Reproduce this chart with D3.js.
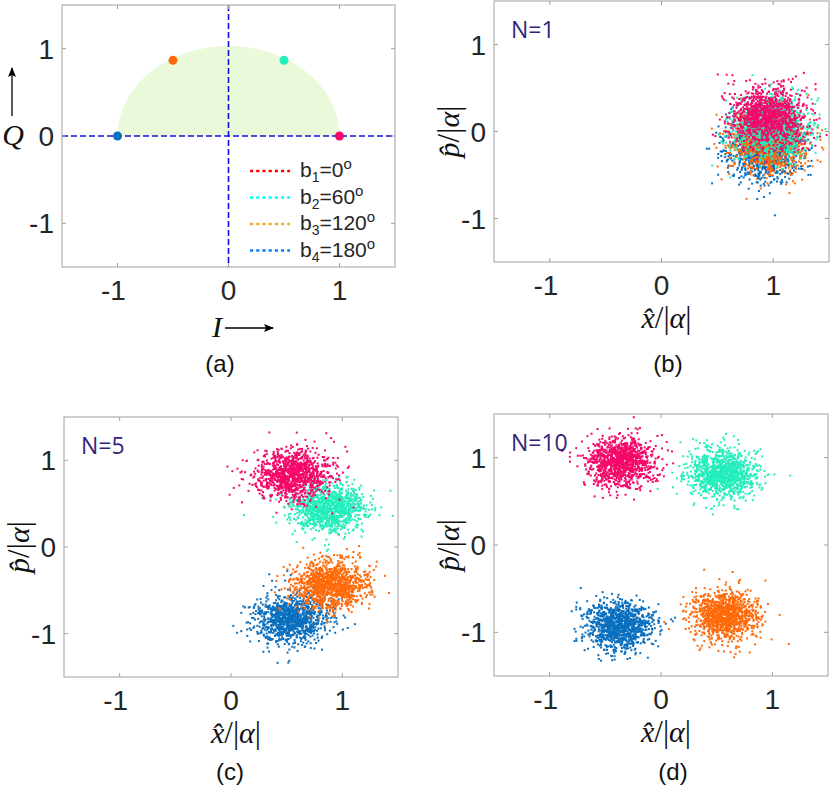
<!DOCTYPE html>
<html>
<head>
<meta charset="utf-8">
<title>Constellation and phase-space clouds</title>
<script src="https://cdn.jsdelivr.net/npm/d3@7"></script>
<style>
	body { margin: 0; background: #fff; }
	svg { display: block; }
</style>
</head>
<body>
<div id="vis"></div>
<script type="text/javascript">
// ---- data ----
var tickValues = [-1, 0, 1];
var phaseNames = ["b1", "b2", "b3", "b4"];
var phaseDegrees = [0, 60, 120, 180];
// constellation points of panel (a), in (I, Q)
var constI = [1, 0.5, -0.5, -1];
var constQ = [0, 0.866, 0.866, 0];
// outline of the shaded half disc: half width and height
var discHalfWidth = 1;
var discHeight = 1.03;
var nLabels = ["N=1", "N=5", "N=10"];
// cloud centres and spreads per N (order b1..b4)
var centreX = [
	[0.95, 1.00, 0.95, 0.92],
	[0.55, 0.88, 0.90, 0.55],
	[-0.36, 0.55, 0.57, -0.37]
];
var centreY = [
	[0.17, 0.05, -0.12, -0.21],
	[0.83, 0.45, -0.43, -0.83],
	[0.95, 0.82, -0.80, -0.92]
];
var spreadX = [0.17, 0.17, 0.15];
var spreadY = [0.17, 0.14, 0.14];
var samplesPerCloud = 1100;

// colours
const COLOR_DOT = ["#f5086a", "#22eebb", "#ff6a0a", "#0a6fbe"];
const COLOR_LEGEND = ["#ff0000", "#00ffff", "#edb120", "#0a7cff"];
const COLOR_AXIS = "#1010e0";
const COLOR_FRAME = "#a0a0a0";
const COLOR_TEXT = "#262626";

var svg = d3.select("#vis").append("svg").attr("width", 830).attr("height", 786);

// panel frames (pixels)
var panels = [
	{x0: 62, x1: 395, y0: 5, y1: 267, label: "(a)", lx: 220, ly: 372},
	{x0: 494, x1: 829, y0: 1, y1: 262, label: "(b)", lx: 668, ly: 372},
	{x0: 64, x1: 398, y0: 417, y1: 677, label: "(c)", lx: 230, ly: 780},
	{x0: 494, x1: 828, y0: 414, y1: 676, label: "(d)", lx: 673, ly: 780}
];

// deterministic normal sampler (the clouds are shot noise in the original)
function mulberry32(a) {
	return function() {
		a |= 0; a = a + 0x6D2B79F5 | 0;
		var t = Math.imul(a ^ a >>> 15, 1 | a);
		t = t + Math.imul(t ^ t >>> 7, 61 | t) ^ t;
		return ((t ^ t >>> 14) >>> 0) / 4294967296;
	};
}
var rand = mulberry32(20240607);
function gauss() {
	var u = 1 - rand(), v = rand();
	return Math.sqrt(-2 * Math.log(u)) * Math.cos(2 * Math.PI * v);
}

function drawFrame(p, x, y) {
	var g = svg.append("g");
	g.append("rect").attr("x", p.x0).attr("y", p.y0)
		.attr("width", p.x1 - p.x0).attr("height", p.y1 - p.y0)
		.attr("fill", "none").attr("stroke", COLOR_FRAME).attr("stroke-width", 1);
	// ticks inside on all four sides
	tickValues.forEach(function(t) {
		var tx = x(t), ty = y(t);
		g.append("line").attr("x1", tx).attr("x2", tx).attr("y1", p.y1).attr("y2", p.y1 - 4).attr("stroke", COLOR_FRAME);
		g.append("line").attr("x1", tx).attr("x2", tx).attr("y1", p.y0).attr("y2", p.y0 + 4).attr("stroke", COLOR_FRAME);
		g.append("line").attr("y1", ty).attr("y2", ty).attr("x1", p.x0).attr("x2", p.x0 + 4).attr("stroke", COLOR_FRAME);
		g.append("line").attr("y1", ty).attr("y2", ty).attr("x1", p.x1).attr("x2", p.x1 - 4).attr("stroke", COLOR_FRAME);
	});
	g.selectAll(".xt").data(tickValues).enter().append("text")
		.attr("x", function(d) { return x(d) - (d < 0 ? 4 : 0); })
		.attr("y", p.y1 + 33)
		.attr("text-anchor", "middle")
		.attr("font-family", "Liberation Sans, Arial, sans-serif")
		.attr("font-size", 28).attr("fill", COLOR_TEXT)
		.text(function(d) { return d; });
	g.selectAll(".yt").data(tickValues).enter().append("text")
		.attr("x", p.x0 - 8)
		.attr("y", function(d) { return y(d) + 10; })
		.attr("text-anchor", "end")
		.attr("font-family", "Liberation Sans, Arial, sans-serif")
		.attr("font-size", 28).attr("fill", COLOR_TEXT)
		.text(function(d) { return d; });
	svg.append("text").attr("x", p.lx).attr("y", p.ly)
		.attr("text-anchor", "middle")
		.attr("font-family", "Liberation Sans, Arial, sans-serif")
		.attr("font-size", 24).attr("fill", "#111")
		.text(p.label);
	return g;
}

svg.append("defs").append("marker")
	.attr("id", "arrow").attr("viewBox", "0 0 10 10")
	.attr("refX", 9).attr("refY", 5)
	.attr("markerWidth", 10).attr("markerHeight", 10)
	.attr("markerUnits", "userSpaceOnUse")
	.attr("orient", "auto")
	.append("path").attr("d", "M0,1 L10,5 L0,9 L2,5 Z").attr("fill", "#000");

// ---------- panel (a) ----------
(function() {
	var p = panels[0];
	var x = d3.scaleLinear().domain([-1.5, 1.5]).range([p.x0, p.x1]);
	var y = d3.scaleLinear().domain([-1.5, 1.5]).range([p.y1, p.y0]);
	var angles = d3.range(0, 181, 2);
	var disc = d3.line()
		.x(function(a) { return x(discHalfWidth * Math.cos(a * Math.PI / 180)); })
		.y(function(a) { return y(discHeight * Math.sin(a * Math.PI / 180)); });
	svg.append("path").attr("d", disc(angles) + "Z").attr("fill", "#e9f9da");

	svg.append("line").attr("x1", p.x0).attr("x2", p.x1).attr("y1", y(0)).attr("y2", y(0))
		.attr("stroke", COLOR_AXIS).attr("stroke-width", 1.6).attr("stroke-dasharray", "6,3");
	svg.append("line").attr("x1", x(0)).attr("x2", x(0)).attr("y1", p.y0).attr("y2", p.y1)
		.attr("stroke", COLOR_AXIS).attr("stroke-width", 1.6).attr("stroke-dasharray", "6,3");

	svg.selectAll(".const").data(constI).enter().append("circle")
		.attr("cx", function(d) { return x(d); })
		.attr("cy", function(d, i) { return y(constQ[i]); })
		.attr("r", 4.5)
		.attr("fill", function(d, i) { return COLOR_DOT[i]; });

	drawFrame(p, x, y);

	// legend
	var lg = svg.append("g");
	phaseNames.forEach(function(name, i) {
		var ly = 171 + i * 26.5;
		lg.append("line").attr("x1", 250).attr("x2", 290).attr("y1", ly).attr("y2", ly)
			.attr("stroke", COLOR_LEGEND[i]).attr("stroke-width", 2.6).attr("stroke-dasharray", "3.2,3");
		var t = lg.append("text").attr("x", 300).attr("y", ly + 6)
			.attr("font-family", "Liberation Sans, Arial, sans-serif")
			.attr("font-size", 21).attr("fill", COLOR_TEXT);
		t.append("tspan").text("b");
		t.append("tspan").attr("font-size", 14).attr("dy", 5).text(name.slice(1));
		t.append("tspan").attr("dy", -5).text("=" + phaseDegrees[i]);
		t.append("tspan").attr("font-size", 15).attr("dy", -8).text("o");
	});

	// axis names with arrows
	svg.append("text").attr("x", 212).attr("y", 337)
		.attr("font-family", "Liberation Serif, Times New Roman, serif")
		.attr("font-style", "italic").attr("font-size", 30).attr("fill", "#111").text("I");
	svg.append("line").attr("x1", 225).attr("x2", 273).attr("y1", 328).attr("y2", 328)
		.attr("stroke", "#000").attr("stroke-width", 1.3).attr("marker-end", "url(#arrow)");
	svg.append("text").attr("x", 13).attr("y", 145).attr("text-anchor", "middle")
		.attr("font-family", "Liberation Serif, Times New Roman, serif")
		.attr("font-style", "italic").attr("font-size", 30).attr("fill", "#111").text("Q");
	svg.append("line").attr("x1", 12).attr("x2", 12).attr("y1", 116).attr("y2", 68)
		.attr("stroke", "#000").attr("stroke-width", 1.3).attr("marker-end", "url(#arrow)");
})();

// ---------- panels (b)-(d) ----------
function axisLabel(t, letter) {
	t.attr("font-family", "Liberation Serif, Times New Roman, serif")
		.attr("font-size", 30).attr("fill", "#111");
	t.append("tspan").attr("font-style", "italic").text(letter + "\u0302");
	t.append("tspan").attr("font-size", 31).text("/|");
	t.append("tspan").attr("font-style", "italic").text("\u03b1");
	t.append("tspan").attr("font-size", 31).text("|");
}

nLabels.forEach(function(lab, k) {
	var p = panels[k + 1];
	var x = d3.scaleLinear().domain([-1.5, 1.5]).range([p.x0, p.x1]);
	var y = d3.scaleLinear().domain([-1.5, 1.5]).range([p.y1, p.y0]);
	var clipId = "clip" + k;
	svg.append("clipPath").attr("id", clipId).append("rect")
		.attr("x", p.x0).attr("y", p.y0).attr("width", p.x1 - p.x0).attr("height", p.y1 - p.y0);
	var g = svg.append("g").attr("clip-path", "url(#" + clipId + ")");
	// blue first, pink last
	[3, 2, 1, 0].forEach(function(c) {
		var pts = [];
		for (var i = 0; i < samplesPerCloud; i++) {
			pts.push([centreX[k][c] + spreadX[k] * gauss(), centreY[k][c] + spreadY[k] * gauss()]);
		}
		g.append("g").selectAll("rect").data(pts).enter().append("rect")
			.attr("x", function(d) { return x(d[0]) - 1; })
			.attr("y", function(d) { return y(d[1]) - 1; })
			.attr("width", 2).attr("height", 2)
			.attr("fill", COLOR_DOT[c]);
	});
	drawFrame(p, x, y);
	svg.append("text").attr("x", p.x0 + 17).attr("y", p.y0 + 37)
		.attr("font-family", "Open Sans, sans-serif")
		.attr("font-size", 23).attr("fill", "#33237a")
		.text(lab);
	axisLabel(svg.append("text").attr("x", (p.x0 + p.x1) / 2 + 5).attr("y", p.y1 + 66)
		.attr("text-anchor", "middle"), "x");
	var yl = svg.append("text")
		.attr("transform", "translate(" + (p.x0 - 35) + "," + ((p.y0 + p.y1) / 2) + ") rotate(-90)")
		.attr("text-anchor", "middle");
	axisLabel(yl, "p");
});
</script>
</body>
</html>
